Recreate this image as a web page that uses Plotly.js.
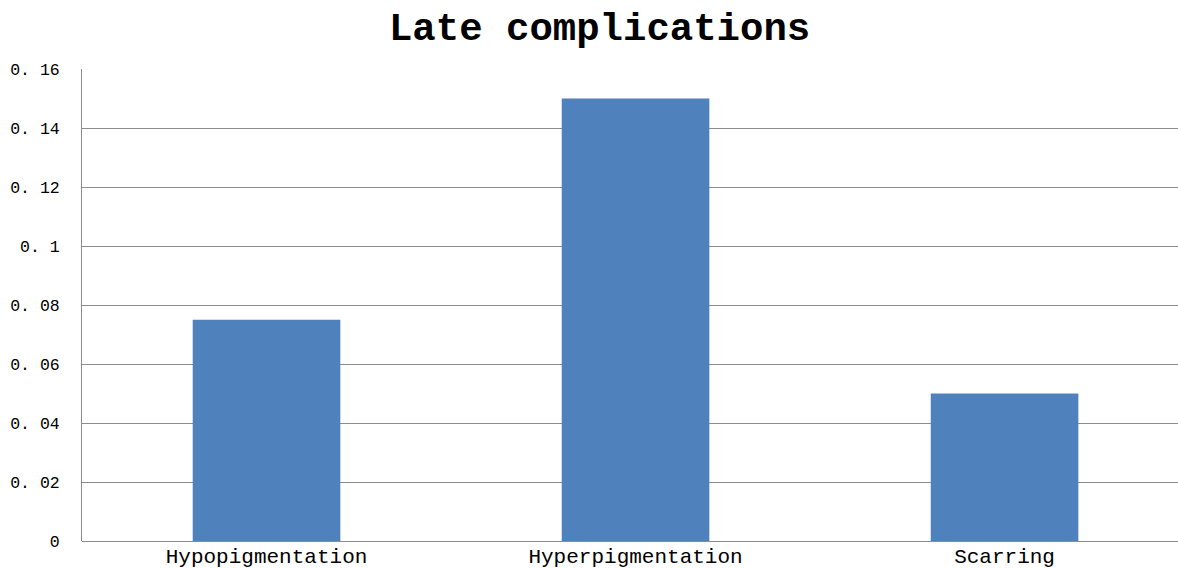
<!DOCTYPE html>
<html>
<head>
<meta charset="utf-8">
<script src="https://cdn.plot.ly/plotly-3.0.1.min.js"></script>
<style>html,body{margin:0;padding:0;background:#fff;}#chart{width:1178px;height:568px;}</style>
</head>
<body>
<div id="chart"></div>
<script>
var categories = ["Hypopigmentation", "Hyperpigmentation", "Scarring"];
var values = [0.075, 0.15, 0.05];
var yTickVals = [0, 0.02, 0.04, 0.06, 0.08, 0.1, 0.12, 0.14, 0.16];
var yTickText = ["0", "0. 02", "0. 04", "0. 06", "0. 08", "0. 1", "0. 12", "0. 14", "0. 16"];

var trace = {
  type: "bar",
  x: [0, 1, 2],
  y: values,
  width: 0.4,
  marker: {color: "#4F81BD"},
  hoverinfo: "skip"
};

var layout = {
  width: 1178,
  height: 568,
  margin: {l: 82, r: 0, t: 69, b: 27},
  paper_bgcolor: "#ffffff",
  plot_bgcolor: "#ffffff",
  showlegend: false,
  title: {
    text: "<b>Late complications</b>",
    font: {family: "Liberation Mono, Courier New, monospace", size: 39, color: "#000"},
    x: 0.509, xanchor: "center",
    y: 0.953, yanchor: "middle"
  },
  xaxis: {
    range: [-0.5, 2.47],
    tickvals: [0, 1, 2],
    ticktext: categories,
    tickfont: {family: "Liberation Mono, Courier New, monospace", size: 21, color: "#000"},
    showgrid: false,
    zeroline: false,
    showline: false,
    ticks: "",
    ticklabelstandoff: 0
  },
  yaxis: {
    range: [0, 0.16],
    tickvals: yTickVals,
    ticktext: yTickText,
    tickfont: {family: "Liberation Mono, Courier New, monospace", size: 16.5, color: "#000"},
    showgrid: true,
    gridcolor: "#8c8c8c",
    gridwidth: 1,
    zeroline: true,
    zerolinecolor: "#8c8c8c",
    zerolinewidth: 1,
    showline: true,
    linecolor: "#8c8c8c",
    linewidth: 1,
    ticks: "",
    ticklabelstandoff: 18
  },
  bargap: 0.6
};

Plotly.newPlot("chart", [trace], layout, {displayModeBar: false, staticPlot: true});
</script>
</body>
</html>
